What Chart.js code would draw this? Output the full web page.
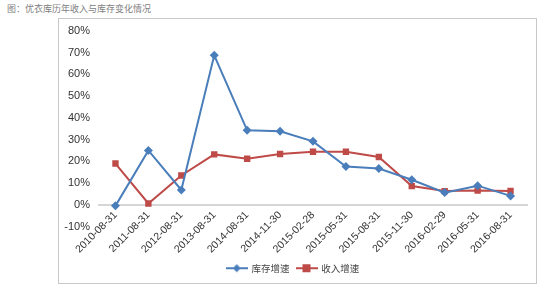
<!DOCTYPE html>
<html>
<head>
<meta charset="utf-8">
<script src="https://cdn.jsdelivr.net/npm/chart.js@4"></script>
<style>
    body { margin: 0; background: #fff; width: 546px; height: 291px; position: relative; overflow: hidden; }
    #title { position: absolute; left: 7px; top: 2px; font: 9px "Noto Sans CJK SC", sans-serif; color: #808080; }
    #frame { position: absolute; left: 58px; top: 18px; width: 479px; height: 266px; box-sizing: border-box; border: 1px solid #c8c8c8; }
    #chart { display: block; }
</style>
</head>
<body>
<div id="title">图：优衣库历年收入与库存变化情况</div>
<div id="frame"><canvas id="chart" width="477" height="264"></canvas></div>
<script>
// 日期
const categories = ['2010-08-31', '2011-08-31', '2012-08-31', '2013-08-31', '2014-08-31', '2014-11-30',
    '2015-02-28', '2015-05-31', '2015-08-31', '2015-11-30', '2016-02-29', '2016-05-31', '2016-08-31'];

// 库存增速 / 收入增速
const stockGrowth = [-0.005, 0.25, 0.068, 0.688, 0.343, 0.338, 0.292, 0.176, 0.167, 0.115, 0.056, 0.088, 0.041];
const revenueGrowth = [0.19, 0.006, 0.135, 0.232, 0.212, 0.234, 0.244, 0.244, 0.22, 0.086, 0.063, 0.066, 0.064];

const yTicks = [-0.1, 0, 0.1, 0.2, 0.3, 0.4, 0.5, 0.6, 0.7, 0.8];

const BLUE = '#4a7ebb';
const RED = '#be4b48';
const FONT = '"Liberation Sans", Arial, sans-serif';

// иконки легенды: линия + маркер
function legendIcon(color, shape) {
    const c = document.createElement('canvas');
    c.width = 22; c.height = 10;
    const g = c.getContext('2d');
    g.strokeStyle = color; g.lineWidth = 2;
    g.beginPath(); g.moveTo(0, 5); g.lineTo(22, 5); g.stroke();
    g.fillStyle = color;
    g.beginPath();
    if (shape === 'diamond') {
        g.moveTo(11, 1); g.lineTo(15, 5); g.lineTo(11, 9); g.lineTo(7, 5);
    } else {
        g.rect(7, 1, 8, 8);
    }
    g.closePath(); g.fill();
    return c;
}
const icons = [legendIcon(BLUE, 'diamond'), legendIcon(RED, 'square')];

new Chart(document.getElementById('chart'), {
    type: 'line',
    data: {
        labels: categories,
        datasets: [{
            label: '库存增速',
            data: stockGrowth,
            borderColor: BLUE,
            backgroundColor: BLUE,
            borderWidth: 2,
            pointStyle: 'rectRot',
            pointRadius: 4.5,
            pointBorderWidth: 0,
            tension: 0
        }, {
            label: '收入增速',
            data: revenueGrowth,
            borderColor: RED,
            backgroundColor: RED,
            borderWidth: 2,
            pointStyle: 'rect',
            pointRadius: 4.5,
            pointBorderWidth: 0,
            tension: 0
        }]
    },
    options: {
        responsive: false,
        animation: false,
        layout: { padding: { top: 0, right: 9, bottom: 0, left: 0 } },
        plugins: {
            tooltip: { enabled: false },
            legend: {
                position: 'bottom',
                // пустой заголовок легенды — место под подписи оси X
                title: { display: true, text: ' ', font: { size: 10 }, padding: { top: 18, bottom: 0 } },
                labels: {
                    usePointStyle: true,
                    pointStyleWidth: 20,
                    boxHeight: 10,
                    padding: 7,
                    color: '#444',
                    font: { family: '"Noto Sans CJK SC", sans-serif', size: 9.5 },
                    generateLabels(chart) {
                        const items = Chart.defaults.plugins.legend.labels.generateLabels(chart);
                        items.forEach((it, i) => { it.pointStyle = icons[i]; });
                        return items;
                    }
                }
            }
        },
        scales: {
            x: {
                position: { y: 0 },
                offset: true,
                border: { display: true, color: '#d6d6d6', width: 2 },
                grid: { display: false, drawTicks: false },
                ticks: {
                    minRotation: 45,
                    maxRotation: 45,
                    padding: 4,
                    color: '#333',
                    font: { family: FONT, size: 10.5 }
                }
            },
            y: {
                min: -0.1,
                max: 0.8,
                afterFit: s => { s.width = 40; },
                afterBuildTicks: s => { s.ticks = yTicks.map(v => ({ value: v })); },
                border: { display: false },
                grid: { display: false, drawTicks: false },
                ticks: {
                    padding: 9,
                    color: '#333',
                    font: { family: FONT, size: 11, lineHeight: 0.55 },
                    callback: v => Math.round(v * 100) + '%'
                }
            }
        }
    }
});
</script>
</body>
</html>
